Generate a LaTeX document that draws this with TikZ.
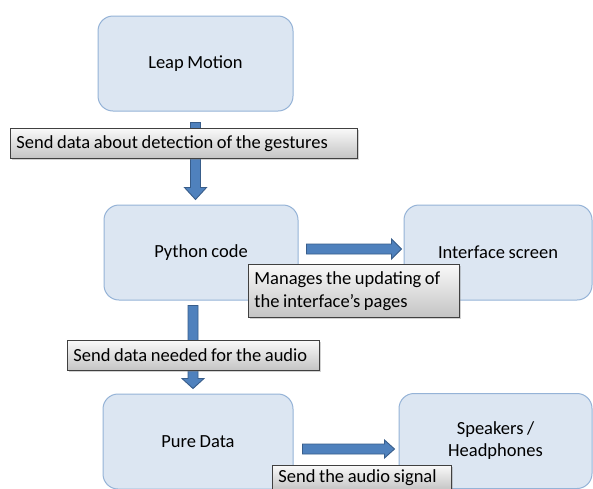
\documentclass[tikz,border=0pt]{standalone}
\usepackage{fontspec}
\setmainfont{Carlito}[WordSpace=0.85]
\usetikzlibrary{shadows,calc}
\definecolor{boxfill}{HTML}{DCE6F2}
\definecolor{boxline}{HTML}{95B3D7}
\definecolor{arrfill}{HTML}{4F81BD}
\definecolor{arrline}{HTML}{385D8A}
\definecolor{lbltop}{HTML}{F9F9F9}
\definecolor{lblbot}{HTML}{C4C4C4}
\tikzset{
  stagebox/.style={draw=boxline, fill=boxfill, line width=1pt, rounded corners=15pt,
    minimum width=#1, minimum height=95pt, inner sep=0pt, align=center},
  blockarr/.style={draw=arrline, fill=arrfill, line width=0.9pt, line join=miter},
  tag/.style={draw=black!75, line width=0.8pt, top color=lbltop, bottom color=lblbot,
    drop shadow={shadow xshift=2pt, shadow yshift=-2pt, opacity=0.35},
    anchor=north west, inner xsep=6pt, inner ysep=0pt, text width=#1, align=flush left,
    minimum height=30pt},
}
\begin{document}
\begin{tikzpicture}[x=1pt,y=-1pt,font=\fontsize{18.5}{23}\selectfont]
\path[use as bounding box] (0,0) rectangle (593,488);
\clip (0,0) rectangle (593,488);
\fill[white] (0,0) rectangle (593,488);

% stages
\node[stagebox=195pt] (leap) at (195.5,63.5) {Leap Motion};
\node[stagebox=194pt] (py) at (201,252.5) {Python code};
\node[stagebox=188pt] (ui) at (498,252.5) {Interface screen};
\node[stagebox=190pt] (pd) at (198,441.5) {Pure Data};
\node[stagebox=193pt] (spk) at (495.5,441) {Speakers /\\[-1pt]Headphones};

% block arrows (let-coordinates are in pt, upward positive)
\path let \p1=(leap.south), \p2=(py.north) in
  [blockarr] (\x1-5,\y1-11) -- (\x1+5,\y1-11) -- (\x1+5,\y2+17) -- (\x1+11,\y2+17)
  -- (\x1,\y2+5) -- (\x1-11,\y2+17) -- (\x1-5,\y2+17) -- cycle;
\path let \p1=(py.south), \p2=(pd.north) in
  [blockarr] (\x1-13,\y1-5) -- (\x1-3,\y1-5) -- (\x1-3,\y2+15) -- (\x1+3,\y2+15)
  -- (\x1-8,\y2+5) -- (\x1-19,\y2+15) -- (\x1-13,\y2+15) -- cycle;
\path let \p1=(py.east), \p2=(ui.west) in
  [blockarr] (\x1+8,\y1+8.5) -- (\x2-12,\y1+8.5) -- (\x2-12,\y1+13.5) -- (\x2-2,\y1+3.5)
  -- (\x2-12,\y1-6.5) -- (\x2-12,\y1-1.5) -- (\x1+8,\y1-1.5) -- cycle;
\path let \p1=(pd.east), \p2=(spk.west) in
  [blockarr] (\x1+9,\y1-2.5) -- (\x2-14,\y1-2.5) -- (\x2-14,\y1+1.5) -- (\x2-4,\y1-7.5)
  -- (\x2-14,\y1-16.5) -- (\x2-14,\y1-12.5) -- (\x1+9,\y1-12.5) -- cycle;

% labels
\node[tag=335pt] (l1) at (10,128) {\mbox{Send data about detection of the gestures}};
\node[tag=199pt, minimum height=53pt] (l2) at (248,264) {\mbox{Manages the updating of}\\\mbox{the interface’s pages}};
\node[tag=240pt] (l3) at (67,340) {\mbox{Send data needed for the audio}};
\node[tag=167pt, minimum height=24.5pt] (l4) at (272,465) {\mbox{Send the audio signal}};
\end{tikzpicture}
\end{document}
